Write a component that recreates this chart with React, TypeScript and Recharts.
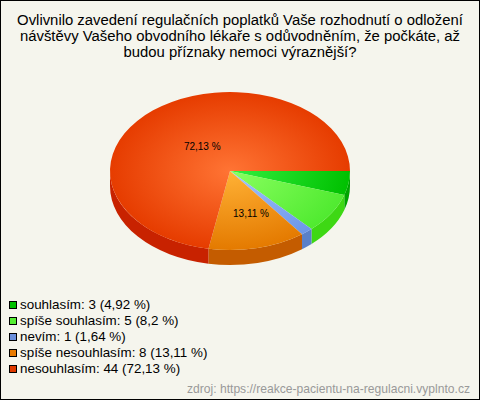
import { PieChart, Pie, Legend } from 'recharts'

const names = ['souhlasím', 'spíše souhlasím', 'nevím', 'spíše nesouhlasím', 'nesouhlasím']
const values = [3, 5, 1, 8, 44]
const percents = ['4,92', '8,2', '1,64', '13,11', '72,13']
const legendColors = ['#00c000', '#55ee33', '#6a8fdc', '#e87a00', '#e03a00']
const centerColors = ['#33f040', '#8aff60', '#a4c4ff', '#ffb236', '#ff7434']
const edgeColors = ['#00c000', '#50ea30', '#6c96e8', '#e47a00', '#e63c00']
const sideColors = ['#00a400', '#3ed814', '#5a80c8', '#c45c00', '#c82200']
const labelled = ['13,11', '72,13']
const titleLines = [
  'Ovlivnilo zavedení regulačních poplatků Vaše rozhodnutí o odložení',
  'návštěvy Vašeho obvodního lékaře s odůvodněním, že počkáte, až',
  'budou příznaky nemoci výraznější?',
]
const source = 'zdroj: https://reakce-pacientu-na-regulacni.vyplnto.cz'

const FONT = '"Liberation Sans", Arial, sans-serif'
const CX = 230
const CY = 171
const RX = 120
const RY = 79
const DEPTH = 15

const pieData = names.map((name, i) => ({
  name,
  value: values[i],
  percent: percents[i],
  fill: `url(#top-${i})`,
  side: sideColors[i],
}))

// Recharts gives a circular sector, this squashes it into the tilted disc
function point(deg: number, dy = 0) {
  const a = (deg * Math.PI) / 180
  return `${CX + RX * Math.cos(a)} ${CY + RY * Math.sin(a) + dy}`
}

function TiltedSector(props: any) {
  const start = -props.startAngle
  const end = -props.endAngle
  const large = end - start > 180 ? 1 : 0
  const top = `M${CX} ${CY} L${point(start)} A${RX} ${RY} 0 ${large} 1 ${point(end)} Z`
  const a1 = Math.max(start, 0)
  const a2 = Math.min(end, 180)
  const side =
    a2 > a1
      ? `M${point(a1)} A${RX} ${RY} 0 0 1 ${point(a2)} L${point(a2, DEPTH)} A${RX} ${RY} 0 0 0 ${point(a1, DEPTH)} Z`
      : null
  return (
    <g>
      {side && <path d={side} fill={props.side ?? props.payload?.side} />}
      <path d={top} fill={props.fill} />
    </g>
  )
}

function SliceLabel(props: any) {
  const text = props.percent ?? props.payload?.percent
  if (!labelled.includes(String(text)) || typeof text !== 'string') return null
  const a = (props.midAngle * Math.PI) / 180
  const nudge = text === '13,11' ? 10 : 3
  return (
    <text
      x={CX + 48 * Math.cos(a) + nudge}
      y={text === '13,11' ? CY + 42 : CY - 25}
      textAnchor="middle"
      dominantBaseline="central"
      fontFamily={FONT}
      fontSize={10}
      fill="#000"
    >
      {text} %
    </text>
  )
}

function LegendRows() {
  return (
    <div style={{ fontFamily: FONT, fontSize: 13.4, lineHeight: '16px', color: '#000' }}>
      {names.map((name, i) => (
        <div key={name} style={{ display: 'flex', alignItems: 'center', height: 16 }}>
          <span
            style={{
              width: 6,
              height: 6,
              background: legendColors[i],
              border: '1px solid #000',
              marginRight: 3,
            }}
          />
          {name}: {values[i]} ({percents[i]} %)
        </div>
      ))}
    </div>
  )
}

export default function App() {
  return (
    <div
      style={{
        position: 'absolute',
        left: 0,
        top: 0,
        width: 480,
        height: 400,
        boxSizing: 'border-box',
        background: '#f5f5ed',
        border: '1px solid #000',
        overflow: 'hidden',
      }}
    >
      <div
        style={{
          position: 'absolute',
          left: -1,
          top: 11,
          width: 480,
          textAlign: 'center',
          fontFamily: FONT,
          fontSize: 14.87,
          lineHeight: '16px',
          color: '#000',
        }}
      >
        {titleLines.map((line) => (
          <div key={line}>{line}</div>
        ))}
      </div>
      <div style={{ position: 'absolute', left: -1, top: -1 }}>
        <PieChart width={480} height={400} margin={{ top: 0, right: 0, bottom: 0, left: 0 }}>
          <defs>
            {centerColors.map((c, i) => (
              <radialGradient
                key={c}
                id={`top-${i}`}
                gradientUnits="userSpaceOnUse"
                cx={0}
                cy={0}
                r={1}
                gradientTransform={`translate(${CX} ${CY}) scale(${RX} ${RY})`}
              >
                <stop offset="0%" stopColor={c} />
                <stop offset="100%" stopColor={edgeColors[i]} />
              </radialGradient>
            ))}
          </defs>
          <Pie
            data={pieData}
            dataKey="value"
            nameKey="name"
            cx={CX}
            cy={CY}
            outerRadius={RX}
            startAngle={0}
            endAngle={-360}
            stroke="none"
            shape={TiltedSector}
            label={SliceLabel}
            labelLine={false}
            isAnimationActive={false}
          />
          <Legend
            content={<LegendRows />}
            layout="vertical"
            align="left"
            verticalAlign="bottom"
            wrapperStyle={{ left: 9, top: 297, bottom: 'auto', width: 300 }}
          />
        </PieChart>
      </div>
      <div
        style={{
          position: 'absolute',
          right: 9,
          top: 381,
          fontFamily: FONT,
          fontSize: 12.1,
          lineHeight: '14px',
          color: '#999',
        }}
      >
        {source}
      </div>
    </div>
  )
}
